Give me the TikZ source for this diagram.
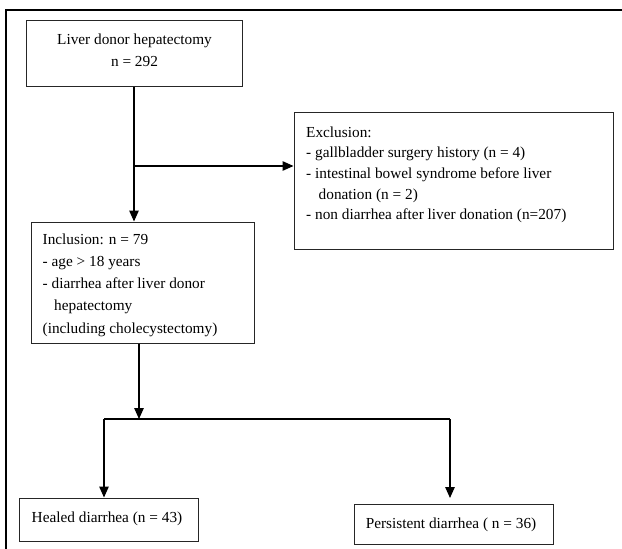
\documentclass[tikz,border=0pt]{standalone}
\usepackage{fontspec}
\setmainfont{Liberation Serif}
\usetikzlibrary{arrows.meta,calc}
\begin{document}
\begin{tikzpicture}[x=1pt,y=-1pt,
  box/.style={draw=black!85, line width=1pt, rectangle, inner sep=0pt},
  conn/.style={draw=black, line width=1.3pt},
  arr/.style={conn, -{Triangle[length=11pt,width=9.5pt]}},
  txt/.style={inner sep=0pt, font=\fontsize{15.3}{20.7}\selectfont}
]
\useasboundingbox (0,0) rectangle (622,549);
% outer frame (clipped by page)
\draw[line width=2pt] (6,560) -- (6,9.5) -- (640,9.5);

% boxes
\node[box, minimum width=216pt, minimum height=66pt] (b1) at (134,53) {};
\node[box, minimum width=319pt, minimum height=137pt] (excl) at (453.5,180.5) {};
\node[box, minimum width=223pt, minimum height=121pt] (incl) at (142.5,282.5) {};
\node[box, minimum width=179pt, minimum height=43pt] (heal) at (108.5,519.5) {};
\node[box, minimum width=199pt, minimum height=40pt] (pers) at (453.5,524) {};

% texts
\node[txt, align=center, font=\fontsize{15.3}{21.7}\selectfont] (t1) at (134.5,50.5) {Liver donor hepatectomy\\n = 292};
\node[txt, align=left, anchor=north west] (texcl) at (306,122.5) {\strut Exclusion:\\- gallbladder surgery history (n = 4)\\- intestinal bowel syndrome before liver\\\hspace{12.5pt}donation (n = 2)\\- non diarrhea after liver donation (n=207)};
\node[txt, align=left, anchor=north west, font=\fontsize{15.3}{22.2}\selectfont] (tincl) at (42.5,228.5) {\strut Inclusion: n = 79\\- age > 18 years\\- diarrhea after liver donor\\\hspace{11.5pt}hepatectomy\\(including cholecystectomy)};
\node[txt] (theal) at (107,518.5) {Healed diarrhea (n = 43)};
\node[txt] (tpers) at (451,525) {Persistent diarrhea ( n = 36)};

% connectors
\coordinate (branch) at (134,166);
\coordinate (split) at (139,419);
\coordinate (hl) at (104,419);
\coordinate (hr) at (450,419);
\coordinate (ptip) at (450,498);
\draw[arr] (b1.south -| branch) -- (branch |- incl.north);
\draw[arr] (branch) -- (branch -| excl.west);
\draw[arr] (incl.south -| split) -- (split);
\draw[conn] (hl) -- (hr);
\draw[arr] (hl) -- (hl |- heal.north);
\draw[arr] (hr) -- (ptip);
\end{tikzpicture}
\end{document}
